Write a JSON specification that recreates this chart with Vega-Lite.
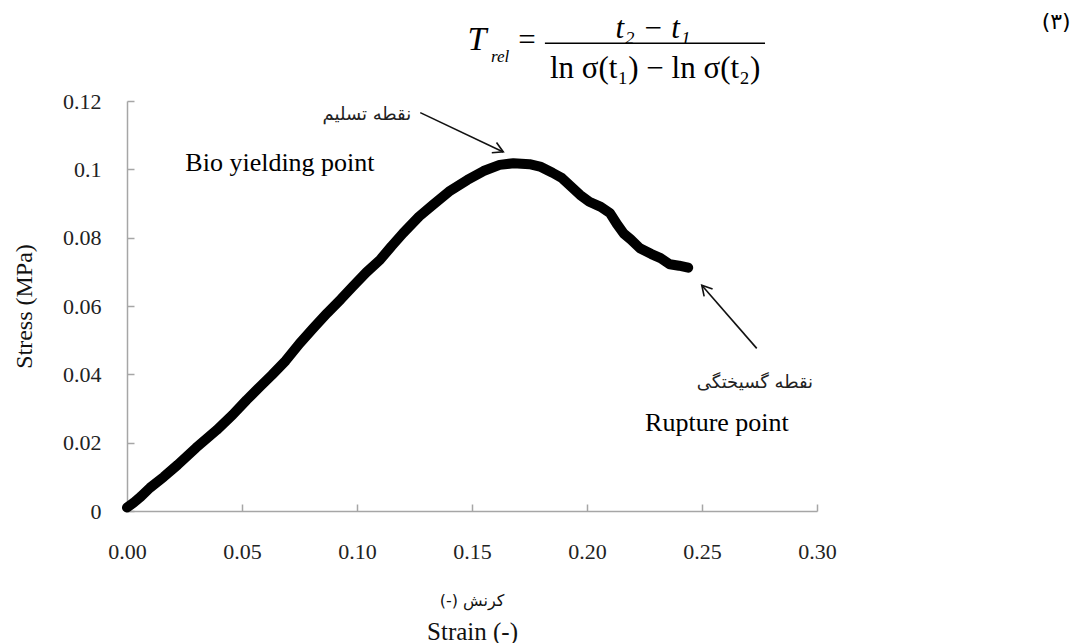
{
  "$schema": "https://vega.github.io/schema/vega-lite/v6.json",
  "width": 690,
  "height": 410,
  "autosize": "none",
  "padding": {"left": 127, "top": 101, "right": 256, "bottom": 132},
  "background": "white",
  "config": {"view": {"stroke": null}, "font": "Liberation Serif"},
  "encoding": {
    "x": {
      "field": "strain", "type": "quantitative",
      "scale": {"domain": [0, 0.3], "nice": false, "zero": false},
      "axis": {
        "values": [0, 0.05, 0.1, 0.15, 0.2, 0.25, 0.3],
        "format": ".2f",
        "grid": false,
        "labelFlush": false,
        "domainColor": "#a6a6a6", "tickColor": "#a6a6a6", "domainWidth": 1.5, "tickWidth": 1.5,
        "tickSize": -7,
        "labelPadding": 37,
        "labelFont": "Liberation Serif", "labelFontSize": 22, "labelColor": "#222",
        "title": "Strain (-)",
        "titleFont": "Liberation Serif", "titleFontSize": 25, "titleFontWeight": "normal",
        "titleColor": "#111", "titlePadding": 57
      }
    },
    "y": {
      "field": "stress", "type": "quantitative",
      "scale": {"domain": [0, 0.12], "nice": false, "zero": false},
      "axis": {
        "values": [0, 0.02, 0.04, 0.06, 0.08, 0.1, 0.12],
        "format": ".2~f",
        "grid": false,
        "domainColor": "#a6a6a6", "tickColor": "#a6a6a6", "domainWidth": 1.5, "tickWidth": 1.5,
        "tickSize": -7,
        "labelPadding": 33,
        "labelFont": "Liberation Serif", "labelFontSize": 22, "labelColor": "#222",
        "title": "Stress (MPa)",
        "titleFont": "Liberation Serif", "titleFontSize": 24, "titleFontWeight": "normal",
        "titleColor": "#111", "titlePadding": 26
      }
    }
  },
  "layer": [
    {
      "data": {"values": [
        {"strain": 0.000, "stress": 0.0010},
        {"strain": 0.003, "stress": 0.0025},
        {"strain": 0.006, "stress": 0.0042},
        {"strain": 0.010, "stress": 0.0068},
        {"strain": 0.016, "stress": 0.0100},
        {"strain": 0.022, "stress": 0.0135},
        {"strain": 0.030, "stress": 0.0185},
        {"strain": 0.039, "stress": 0.0237},
        {"strain": 0.046, "stress": 0.0282},
        {"strain": 0.052, "stress": 0.0325},
        {"strain": 0.058, "stress": 0.0365},
        {"strain": 0.063, "stress": 0.0398},
        {"strain": 0.069, "stress": 0.0440},
        {"strain": 0.075, "stress": 0.0490},
        {"strain": 0.081, "stress": 0.0535},
        {"strain": 0.087, "stress": 0.0579},
        {"strain": 0.093, "stress": 0.0620},
        {"strain": 0.098, "stress": 0.0656},
        {"strain": 0.104, "stress": 0.0698},
        {"strain": 0.110, "stress": 0.0735},
        {"strain": 0.115, "stress": 0.0775},
        {"strain": 0.120, "stress": 0.0813},
        {"strain": 0.127, "stress": 0.0862},
        {"strain": 0.133, "stress": 0.0896},
        {"strain": 0.140, "stress": 0.0935},
        {"strain": 0.148, "stress": 0.0969},
        {"strain": 0.155, "stress": 0.0995},
        {"strain": 0.162, "stress": 0.1013},
        {"strain": 0.168, "stress": 0.1018},
        {"strain": 0.175, "stress": 0.1015},
        {"strain": 0.180, "stress": 0.1007},
        {"strain": 0.185, "stress": 0.0990},
        {"strain": 0.189, "stress": 0.0975},
        {"strain": 0.193, "stress": 0.0950},
        {"strain": 0.197, "stress": 0.0925},
        {"strain": 0.201, "stress": 0.0905},
        {"strain": 0.206, "stress": 0.0890},
        {"strain": 0.210, "stress": 0.0872},
        {"strain": 0.213, "stress": 0.0840},
        {"strain": 0.216, "stress": 0.0812},
        {"strain": 0.219, "stress": 0.0795},
        {"strain": 0.223, "stress": 0.0769},
        {"strain": 0.228, "stress": 0.0752},
        {"strain": 0.232, "stress": 0.0740},
        {"strain": 0.236, "stress": 0.0722},
        {"strain": 0.240, "stress": 0.0718},
        {"strain": 0.244, "stress": 0.0712}
      ]},
      "mark": {"type": "line", "color": "black", "strokeWidth": 10, "strokeCap": "round", "strokeJoin": "round"},
      "encoding": {}
    },
    {
      "data": {"values": [
        {"strain": 0.0665, "stress": 0.1018, "label": "Bio yielding point"},
        {"strain": 0.2565, "stress": 0.0258, "label": "Rupture point"}
      ]},
      "mark": {"type": "text", "font": "Liberation Serif", "fontSize": 26, "color": "black", "align": "center", "baseline": "middle"},
      "encoding": {"text": {"field": "label"}}
    },
    {
      "data": {"values": [
        {"strain": 0.1043, "stress": 0.1159, "label": "نقطه تسلیم"},
        {"strain": 0.2730, "stress": 0.0375, "label": "نقطه گسیختگی"}
      ]},
      "mark": {"type": "text", "font": "DejaVu Sans", "fontSize": 18, "color": "#222", "align": "center", "baseline": "middle"},
      "encoding": {"text": {"field": "label"}}
    },
    {
      "data": {"values": [
        {"strain": 0.1500, "stress": -0.0263, "label": "(-) کرنش"}
      ]},
      "mark": {"type": "text", "font": "DejaVu Sans", "fontSize": 16, "color": "#111", "align": "center", "baseline": "middle"},
      "encoding": {"text": {"field": "label"}}
    },
    {
      "data": {"values": [
        {"strain": 0.1275, "stress": 0.1166, "strain2": 0.1636, "stress2": 0.1051},
        {"strain": 0.2738, "stress": 0.0476, "strain2": 0.2499, "stress2": 0.0661}
      ]},
      "mark": {"type": "rule", "color": "#111", "strokeWidth": 1.6},
      "encoding": {"x2": {"field": "strain2"}, "y2": {"field": "stress2"}}
    },
    {
      "data": {"values": [{"strain": 0.1636, "stress": 0.1051}]},
      "mark": {"type": "point", "shape": "M-0.5,0.9L0,0L0.5,0.9", "filled": false, "stroke": "#111", "strokeWidth": 1.6, "size": 500, "angle": 115, "opacity": 1},
      "encoding": {}
    },
    {
      "data": {"values": [{"strain": 0.2499, "stress": 0.0661}]},
      "mark": {"type": "point", "shape": "M-0.5,0.9L0,0L0.5,0.9", "filled": false, "stroke": "#111", "strokeWidth": 1.6, "size": 500, "angle": 319, "opacity": 1},
      "encoding": {}
    },
    {
      "data": {"values": [{"strain": 0.1817, "strain2": 0.2774, "stress": 0.1369}]},
      "mark": {"type": "rule", "color": "black", "strokeWidth": 1.5},
      "encoding": {"x2": {"field": "strain2"}}
    },
    {
      "data": {"values": [{"strain": 0.1522, "stress": 0.1349, "label": "T"}]},
      "mark": {"type": "text", "font": "Liberation Serif", "fontSize": 34, "fontStyle": "italic", "color": "black", "align": "center", "baseline": "alphabetic"},
      "encoding": {"text": {"field": "label"}}
    },
    {
      "data": {"values": [{"strain": 0.1622, "stress": 0.1314, "label": "rel"}]},
      "mark": {"type": "text", "font": "Liberation Serif", "fontSize": 17, "fontStyle": "italic", "color": "black", "align": "center", "baseline": "alphabetic"},
      "encoding": {"text": {"field": "label"}}
    },
    {
      "data": {"values": [
        {"strain": 0.1739, "stress": 0.1349, "label": "="},
        {"strain": 0.2296, "stress": 0.1267, "label": "ln σ(t₁) − ln σ(t₂)"}
      ]},
      "mark": {"type": "text", "font": "Liberation Serif", "fontSize": 31, "color": "black", "align": "center", "baseline": "alphabetic"},
      "encoding": {"text": {"field": "label"}}
    },
    {
      "data": {"values": [{"strain": 0.2287, "stress": 0.1384, "label": "t₂ − t₁"}]},
      "mark": {"type": "text", "font": "Liberation Serif", "fontSize": 31, "fontStyle": "italic", "color": "black", "align": "center", "baseline": "alphabetic"},
      "encoding": {"text": {"field": "label"}}
    },
    {
      "data": {"values": [{"strain": 0.4040, "stress": 0.1430, "label": "(٣)"}]},
      "mark": {"type": "text", "font": "DejaVu Sans", "fontSize": 22, "color": "black", "align": "center", "baseline": "middle"},
      "encoding": {"text": {"field": "label"}}
    }
  ]
}
